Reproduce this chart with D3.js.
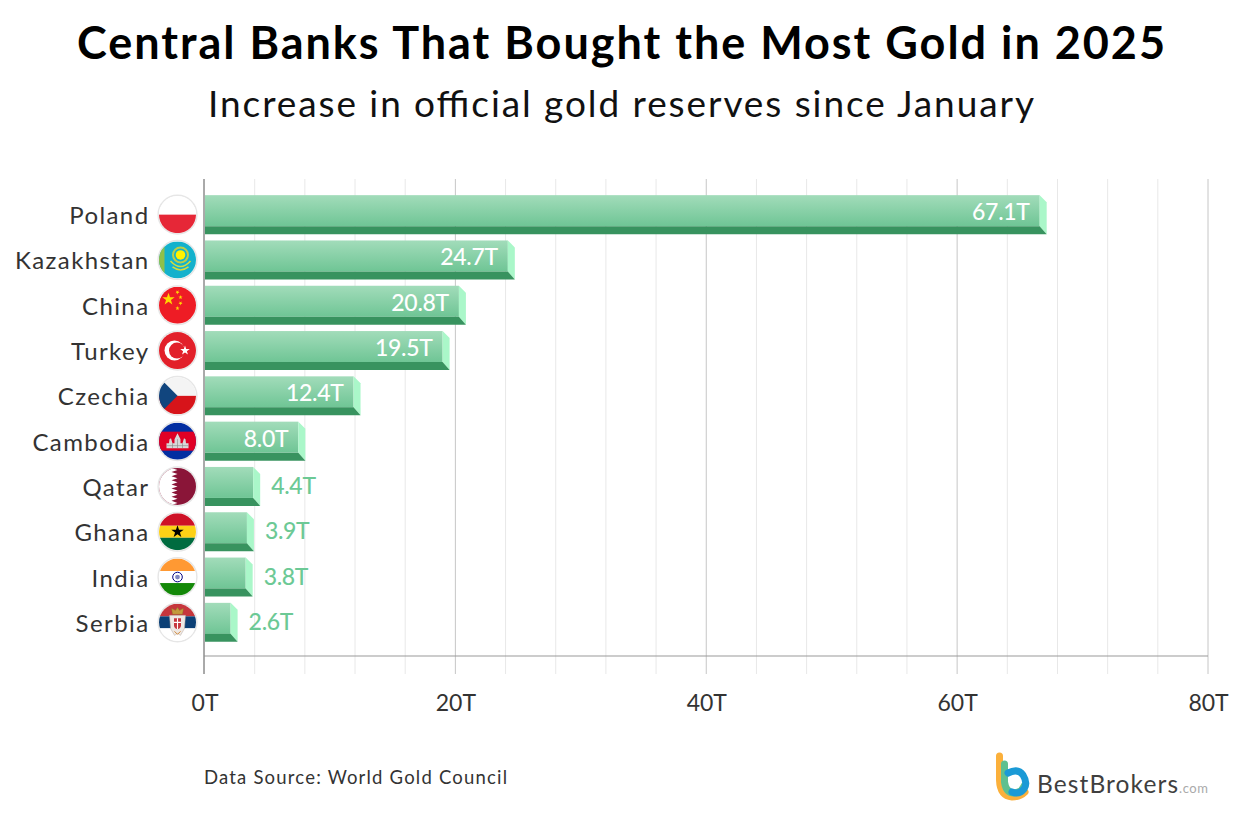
<!DOCTYPE html>
<html><head><meta charset="utf-8">
<script src="https://cdn.jsdelivr.net/npm/d3@7"></script>
<style>html,body{margin:0;padding:0;background:#fff}svg{display:block}text{font-family:Lato,"Noto Sans",sans-serif}</style>
</head><body><svg id="c" width="1240" height="818"></svg>
<script>
const titleText = "Central Banks That Bought the Most Gold in 2025";
const subtitleText = "Increase in official gold reserves since January";
const sourceText = "Data Source: World Gold Council";
const countries = ["Poland","Kazakhstan","China","Turkey","Czechia","Cambodia","Qatar","Ghana","India","Serbia"];
const tonnes = [67.1,24.7,20.8,19.5,12.4,8.0,4.4,3.9,3.8,2.6];
const majorTicks = [0,20,40,60,80];
const minorTicks = [4,8,12,16,24,28,32,36,44,48,52,56,64,68,72,76];

const svg = d3.select("#c");
const defs = svg.append("defs");
const m = {l:204.5,r:1208,t:179,base:656,b:674};
const x = d3.scaleLinear().domain([0,80]).range([m.l,m.r]);
const y = d3.scaleBand().domain(countries).range([192,645]).paddingInner(0.139).paddingOuter(0.0695);

const g = defs.append("linearGradient").attr("id","face").attr("x1",0).attr("y1",0).attr("x2",0).attr("y2",1);
g.append("stop").attr("offset",0).attr("stop-color","#a2dcba");
g.append("stop").attr("offset",1).attr("stop-color","#6fc595");

// Titles
svg.append("text").attr("x",621).attr("y",59).attr("text-anchor","middle").attr("font-size",45).attr("font-weight",700)
  .attr("fill","#000").attr("textLength",1088).attr("lengthAdjust","spacing").text(titleText);
svg.append("text").attr("x",621).attr("y",117).attr("text-anchor","middle").attr("font-size",37).attr("font-weight",400)
  .attr("fill","#111").attr("textLength",826).attr("lengthAdjust","spacing").text(subtitleText);

// Grid
svg.append("g").selectAll("line").data(minorTicks).join("line")
  .attr("x1",d=>x(d)).attr("x2",d=>x(d)).attr("y1",m.t).attr("y2",m.b).attr("stroke","#e8e8e8").attr("stroke-width",1);
svg.append("g").selectAll("line").data(majorTicks.slice(1)).join("line")
  .attr("x1",d=>x(d)).attr("x2",d=>x(d)).attr("y1",m.t).attr("y2",m.b).attr("stroke","#c6c6c6").attr("stroke-width",1);
svg.append("line").attr("x1",m.l).attr("x2",m.r).attr("y1",m.base).attr("y2",m.base).attr("stroke","#9a9a9a").attr("stroke-width",1.2);
svg.append("line").attr("x1",m.l-0.5).attr("x2",m.l-0.5).attr("y1",m.t).attr("y2",m.b).attr("stroke","#555").attr("stroke-width",1);

// Tick labels via axis
const axis = d3.axisBottom(x).tickValues(majorTicks).tickFormat(d=>d+"T").tickSize(0).tickPadding(0);
const ax = svg.append("g").attr("transform","translate(0,694)").call(axis);
ax.select(".domain").remove();
ax.selectAll("text").attr("font-size",23).attr("fill","#333").attr("font-family","Lato,sans-serif").attr("dy",0).attr("y",17);

// Bars
const depthX=7, depthY=8, sideTop=7, barL=m.l+0.5;
const barEnd=v=>x(v)+0.5;
const rows = svg.append("g").selectAll("g").data(countries.map((c,i)=>({c,v:tonnes[i]}))).join("g")
  .attr("transform",d=>`translate(0,${y(d.c)})`);
const h = y.bandwidth();
const faceH = h-depthY;
rows.append("rect").attr("x",barL).attr("y",0).attr("width",d=>barEnd(d.v)-barL-depthX).attr("height",faceH).attr("fill","url(#face)");
rows.append("path").attr("fill","#aaf7c9").attr("d",d=>{const e=barEnd(d.v),f=e-depthX;return `M${f},0L${e},${sideTop}L${e},${h}L${f},${faceH}Z`;});
rows.append("path").attr("fill","#38935f").attr("d",d=>{const e=barEnd(d.v),f=e-depthX;return `M${barL},${faceH}L${f},${faceH}L${e},${h}L${barL},${h}Z`;});
rows.append("text").attr("font-size",23).attr("font-weight",500).attr("letter-spacing",-0.3)
  .attr("y",d=>faceH/2+(d.v>=8?9.5:11.5))
  .attr("x",d=>d.v>=8?barEnd(d.v)-depthX-10:barEnd(d.v)+11)
  .attr("text-anchor",d=>d.v>=8?"end":"start")
  .attr("fill",d=>d.v>=8?"#fff":"#6cc995")
  .text(d=>d.v.toFixed(1)+"T");

// Category labels
rows.append("text").attr("x",149.5).attr("y",h/2+9.5).attr("text-anchor","end").attr("font-size",24)
  .attr("fill","#333").attr("letter-spacing",1.4).text(d=>d.c);

// Flags
const star=(cx,cy,r,rot=-90)=>{const p=[];for(let i=0;i<10;i++){const a=(rot+i*36)*Math.PI/180,q=i%2?r*0.4:r;p.push([cx+q*Math.cos(a),cy+q*Math.sin(a)]);}return "M"+p.join("L")+"Z";};
const R=18.5;
const band=(s,y0,y1,c)=>s.append("rect").attr("x",-R).attr("width",2*R).attr("y",y0).attr("height",y1-y0).attr("fill",c);
const flagDraw={
 Poland(s){band(s,-R,0,"#fff");band(s,0,R,"#e62737");},
 Kazakhstan(s){band(s,-R,R,"#14b1cc");
  s.append("rect").attr("x",-R).attr("y",-R).attr("width",5.5).attr("height",2*R).attr("fill","#8fc04a");
  s.append("circle").attr("cx",3).attr("cy",-5).attr("r",7.5).attr("fill","none").attr("stroke","#b9cf4a").attr("stroke-width",2);
  s.append("circle").attr("cx",3).attr("cy",-5).attr("r",4.8).attr("fill","#fff200");
  s.append("path").attr("d","M-7,1Q3,12 13,1M-5,7Q3,13 11,7").attr("fill","none").attr("stroke","#d5dc3c").attr("stroke-width",1.6);},
 China(s){band(s,-R,R,"#ee1c25");
  s.append("path").attr("d",star(-9,-6,6.5)).attr("fill","#ffd800");
  [[0,-13,-60],[3,-8,-20],[3,-2,20],[0,3,60]].forEach(([a,b,r])=>s.append("path").attr("d",star(a,b,2.2,r)).attr("fill","#ffd800"));},
 Turkey(s){band(s,-R,R,"#e2202a");
  s.append("circle").attr("cx",-3).attr("cy",0).attr("r",10).attr("fill","#fff");
  s.append("circle").attr("cx",-0.5).attr("cy",0).attr("r",8).attr("fill","#e2202a");
  s.append("path").attr("d",star(7.5,0,5,-162)).attr("fill","#fff");},
 Czechia(s){band(s,-R,0,"#f4f4f4");band(s,0,R,"#d7141a");
  s.append("path").attr("d",`M${-R},${-R}L0,0L${-R},${R}Z`).attr("fill","#11457e");},
 Cambodia(s){band(s,-R,R,"#032ea1");band(s,-9.5,9.5,"#e00025");
  s.append("path").attr("fill","#d8d8d8").attr("d","M-11,7L-11,2L-8.5,2L-8,-2L-6.5,-3L-5,2L-3,2L-3,-2L0,-8L3,-2L3,2L5,2L6.5,-3L8,-2L8.5,2L11,2L11,7Z");
  s.append("path").attr("stroke","#888").attr("stroke-width",.6).attr("d","M-11,4.5L11,4.5M-5,2L-5,7M0,-2L0,7M5,2L5,7");},
 Qatar(s){band(s,-R,R,"#8a1538");
  const n=9,p=[[-R,-R]],w=2*R/n;for(let i=0;i<n;i++){p.push([-6,-R+i*w]);p.push([0,-R+(i+.5)*w]);}p.push([-6,R]);p.push([-R,R]);
  s.append("path").attr("d","M"+p.join("L")+"Z").attr("fill","#fff");},
 Ghana(s){band(s,-R,-6,"#ce1126");band(s,-6,6,"#fcd116");band(s,6,R,"#006b3f");
  s.append("path").attr("d",star(0,0,6.5)).attr("fill","#000");},
 India(s){band(s,-R,-6,"#ff9933");band(s,-6,6,"#fff");band(s,6,R,"#138808");
  s.append("circle").attr("r",4.8).attr("fill","#fff").attr("stroke","#000080").attr("stroke-width",1);
  s.append("circle").attr("r",2.4).attr("fill","#7f86c0");},
 Serbia(s){band(s,-R,-6,"#c6363c");band(s,-6,6,"#0c4076");band(s,6,R,"#fff");
  s.append("path").attr("d","M-8,-7L8,-7L7,6L3,13L0,11L-3,13L-7,6Z").attr("fill","#efe9e4").attr("stroke","#b5a79f").attr("stroke-width",.5);
  s.append("path").attr("d","M-5,-8L-6,-14L-2,-12L0,-15L2,-12L6,-14L5,-8Z").attr("fill","#c49a3c").attr("stroke","#8a6a2a").attr("stroke-width",.4);
  s.append("path").attr("d","M-3.5,-4L3.5,-4L3.5,3Q3.5,6 0,7Q-3.5,6 -3.5,3Z").attr("fill","#c6363c");
  s.append("path").attr("d","M0,-4L0,7M-3.5,0L3.5,0").attr("stroke","#fff").attr("stroke-width",1.1);
  s.append("path").attr("d","M-3,9L0,12L3,9").attr("fill","none").attr("stroke","#d08a3a").attr("stroke-width",1);}
};
const flags=rows.append("g").attr("transform",`translate(177.5,${h/2})`);
flags.append("circle").attr("r",19.4).attr("fill","#fff").attr("stroke","#e6e6e6").attr("stroke-width",1.4);
flags.each(function(d,i){
  const id="clip"+i;
  defs.append("clipPath").attr("id",id).append("circle").attr("r",R);
  flagDraw[d.c](d3.select(this).append("g").attr("clip-path",`url(#${id})`));
});

// Footer
svg.append("text").attr("x",204).attr("y",784).attr("font-size",18.5).attr("fill","#333").attr("textLength",303).attr("lengthAdjust","spacing").text(sourceText);

// Logo
const logo=svg.append("g").attr("fill","none").attr("stroke-linecap","round");
logo.append("path").attr("stroke","#fbb03b").attr("stroke-width",7).attr("d","M999.5,756L999.5,780Q1000,796 1012,797Q1020,797 1025,792");
logo.append("path").attr("stroke","#5fc08f").attr("stroke-width",7).attr("d","M1004.5,764L1004.5,782Q1006,793 1014,793Q1022,792 1024,786");
logo.append("path").attr("stroke","#1b9ad6").attr("stroke-width",7).attr("d","M1008,773Q1018,768 1023,775Q1028,783 1024,789Q1019,795 1012,792");
svg.append("text").attr("x",1037).attr("y",793).attr("font-size",24.5).attr("fill","#3f3f3f").attr("textLength",141).attr("lengthAdjust","spacing").text("BestBrokers");
svg.append("text").attr("x",1179).attr("y",793).attr("font-size",13).attr("fill","#aaa").attr("textLength",29).attr("lengthAdjust","spacing").text(".com");
</script></body></html>
